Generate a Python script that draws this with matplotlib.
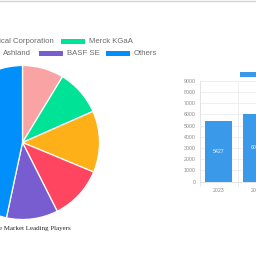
import matplotlib
matplotlib.use("Agg")
import matplotlib.pyplot as plt
from matplotlib.patches import Rectangle
from matplotlib.lines import Line2D

# ---- data ----
players = ["Mitsubishi Chemical Corporation", "Merck KGaA", "Evonik Industries",
           "Ashland", "BASF SE", "Others"]
shares = [8.7, 9.7, 12.9, 11.3, 10.8, 46.7]
pie_colors = ["#F9A3A4", "#00E396", "#FEB019", "#FF4560", "#775DD0", "#008FFB"]
years = ["2023", "2024"]
market_values = [5427, 6012]
bar_color = "#3A9AE9"
title_text = "e Market Leading Players"

W = 256.0
def fx(x):
    return x / W
def fy(y):
    return 1 - y / W

fig = plt.figure(figsize=(2.56, 2.56), dpi=100)
fig.patch.set_facecolor("white")

# top border line
fig.add_artist(Line2D([0, 1], [fy(0.5), fy(0.5)], color="#d3d3d3", lw=1.0,
                      transform=fig.transFigure))

# ---- pie ----
cx, cy, r = 22.5, 142.5, 77.0
axp = fig.add_axes([fx(cx - r), fy(cy + r), 2 * r / W, 2 * r / W])
axp.pie(shares, colors=pie_colors, startangle=90, counterclock=False,
        wedgeprops=dict(edgecolor="white", linewidth=0.9))
axp.set_xlim(-1, 1)
axp.set_ylim(-1, 1)
axp.set_aspect("equal")
axp.axis("off")

# pie title (cut at left)
fig.text(fx(71), fy(228.5), title_text, ha="right", va="center",
         fontsize=5.0, family="Liberation Serif", color="#262626")

# ---- pie legend (manual, partly out of frame) ----
legend_txt_color = "#6b6b6b"
box_w, box_h = 24, 5.0
# row 1
row1_y = 41.2
fig.text(fx(53.5), fy(row1_y), players[0], ha="right", va="center",
         fontsize=5.6, family="Liberation Sans", color=legend_txt_color)
fig.add_artist(Rectangle((fx(61), fy(row1_y + box_h / 2)), box_w / W, box_h / W,
                         transform=fig.transFigure, color=pie_colors[1], lw=0))
fig.text(fx(89.3), fy(row1_y), players[1], ha="left", va="center",
         fontsize=5.6, family="Liberation Sans", color=legend_txt_color)
# row 2
row2_y = 53.7
row2 = [(3.3, 3), (67, 4), (134, 5)]
for tx, i in row2:
    bx = tx - 4 - box_w
    fig.add_artist(Rectangle((fx(bx), fy(row2_y + box_h / 2)), box_w / W, box_h / W,
                             transform=fig.transFigure, color=pie_colors[i], lw=0))
    fig.text(fx(tx), fy(row2_y), players[i], ha="left", va="center",
             fontsize=5.6, family="Liberation Sans", color=legend_txt_color)

# ---- bar chart ----
y0, y9000 = 181.7, 80.7
axb = fig.add_axes([fx(199.5), fy(y0), 76 / W, (y0 - y9000) / W])
bars = axb.bar(years, market_values, width=0.73, color=bar_color, zorder=3)
axb.set_xlim(-0.5, 1.5)
axb.set_ylim(0, 9000)
axb.set_yticks(range(0, 9001, 1000))
axb.tick_params(axis="y", length=0, pad=3.0, labelsize=3.8, labelcolor="#8a8a8a")
axb.tick_params(axis="x", which="major", length=0, pad=4.5, labelsize=3.8,
                labelcolor="#8a8a8a")
axb.set_xticks([-0.5, 0.5, 1.5], minor=True)
axb.tick_params(axis="x", which="minor", length=3, width=0.6, color="#e3e3e3")
for lab in axb.get_xticklabels() + axb.get_yticklabels():
    lab.set_family("Liberation Sans")
axb.grid(axis="y", color="#ececec", lw=0.6, zorder=0)
axb.grid(axis="x", which="minor", color="#ececec", lw=0.6, zorder=0)
for s in ["top", "right"]:
    axb.spines[s].set_visible(False)
for s in ["left", "bottom"]:
    axb.spines[s].set_color("#e0e0e0")
    axb.spines[s].set_linewidth(0.6)
axb.bar_label(bars, labels=[str(v) for v in market_values], label_type="center",
              color="#e8f2fc", fontsize=3.8, family="Liberation Sans")

# bar legend box (partly out of frame)
fig.add_artist(Rectangle((fx(240), fy(76.7)), 40 / W, 5 / W,
                         transform=fig.transFigure, color=bar_color, lw=0))

fig.savefig("out.png", dpi=100)
